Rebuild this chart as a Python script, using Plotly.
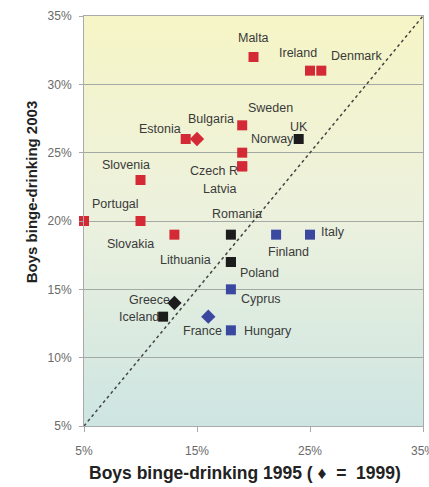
import base64
import plotly.graph_objs as go

# boys binge-drinking, % (1995 or 1999 on x, 2003 on y)
countries = ['Malta', 'Ireland', 'Denmark', 'Sweden', 'Estonia', 'Bulgaria', 'Norway',
             'Czech R', 'Latvia', 'Slovenia', 'Portugal', 'Slovakia', '',
             'UK', 'Romania', 'Lithuania', 'Poland', 'Greece', 'Iceland',
             'Cyprus', 'Finland', 'Italy', 'France', 'Hungary']
boys_early = [20, 25, 26, 19, 14, 15, 19, 19, 19, 10, 5, 13, 10,
              24, 18, 18, 18, 13, 12, 18, 22, 25, 16, 18]
boys_2003 = [32, 31, 31, 27, 26, 26, 25, 24, 24, 23, 20, 19, 20,
             26, 19, 17, 17, 14, 13, 15, 19, 19, 13, 12]
change = ['up'] * 13 + ['same'] * 6 + ['down'] * 5
year_1999 = ['Bulgaria', 'Greece', 'France']

x_ticks = [5, 15, 25, 35]
y_ticks = [5, 10, 15, 20, 25, 30, 35]

colors = {'up': '#d42a35', 'same': '#1c1c1c', 'down': '#3b48a0'}

# label offsets in pixels (dx, dy) from the marker
offsets = {'Malta': (0, 19), 'Ireland': (-12, 18), 'Denmark': (35, 15), 'Sweden': (28, 17),
           'Estonia': (-26, 10), 'Bulgaria': (14, 20), 'Norway': (30, 14), 'Czech R': (-28, -5),
           'Latvia': (-23, -23), 'Slovenia': (-15, 15), 'Portugal': (31, 17), 'Slovakia': (-44, -9),
           'UK': (0, 12), 'Romania': (6, 21), 'Lithuania': (-45, 2), 'Poland': (29, -11),
           'Greece': (-25, 3), 'Iceland': (-24, 0), 'Cyprus': (30, -10), 'Finland': (12, -17),
           'Italy': (23, 3), 'France': (-6, -14), 'Hungary': (37, -1)}

fig = go.Figure()

# diagonal (no change) line
fig.add_trace(go.Scatter(x=[5, 35], y=[5, 35], mode='lines',
                         line=dict(color='#444444', width=1.5, dash='3px,3px'),
                         hoverinfo='skip', showlegend=False))

for grp in ['up', 'same', 'down']:
    for sym in ['square', 'diamond']:
        idx = [i for i in range(len(countries)) if change[i] == grp
               and (countries[i] in year_1999) == (sym == 'diamond')]
        if not idx:
            continue
        fig.add_trace(go.Scatter(
            x=[boys_early[i] for i in idx], y=[boys_2003[i] for i in idx],
            mode='markers', text=[countries[i] for i in idx],
            marker=dict(symbol=sym, size=10 if sym == 'square' else 11,
                        color=colors[grp], line=dict(width=0)),
            cliponaxis=False, showlegend=False))

for i, name in enumerate(countries):
    if name not in offsets:
        continue
    dx, dy = offsets[name]
    fig.add_annotation(x=boys_early[i], y=boys_2003[i], text=name, showarrow=False,
                       xshift=dx, yshift=dy,
                       font=dict(family='Liberation Sans, Arial', size=12.5, color='#3a3a3a'))

# axis titles as annotations (placed like the original)
nb = '\u00a0'
fig.add_annotation(xref='paper', yref='paper', x=0.475, y=0, yshift=-47,
                   text=f'Boys binge-drinking 1995 ({nb}\u2666{nb}{nb}={nb}{nb}1999)',
                   showarrow=False, xanchor='center', yanchor='middle',
                   font=dict(family='Liberation Sans, Arial', size=17.5, color='#222222',
                             weight='bold'))
fig.add_annotation(xref='paper', yref='paper', x=0, xshift=-53, y=0.57,
                   text='Boys binge-drinking 2003', textangle=-90,
                   showarrow=False, xanchor='center', yanchor='middle',
                   font=dict(family='Liberation Sans, Arial', size=15, color='#222222',
                             weight='bold'))

svg = ("<svg xmlns='http://www.w3.org/2000/svg' width='10' height='10' preserveAspectRatio='none'>"
       "<defs><linearGradient id='g' x1='0' y1='0' x2='0' y2='1'>"
       "<stop offset='0' stop-color='#f6f5c6'/><stop offset='0.5' stop-color='#ecf1de'/>"
       "<stop offset='1' stop-color='#cde5e2'/></linearGradient></defs>"
       "<rect width='10' height='10' fill='url(#g)'/></svg>")
bg = 'data:image/svg+xml;base64,' + base64.b64encode(svg.encode()).decode()

fig.update_layout(
    width=429, height=487,
    margin=dict(l=84, r=6, t=16, b=61),
    paper_bgcolor='white', plot_bgcolor='rgba(0,0,0,0)',
    images=[dict(source=bg, xref='paper', yref='paper', x=0, y=1, sizex=1, sizey=1,
                 xanchor='left', yanchor='top', sizing='stretch', layer='below')],
    font=dict(family='Liberation Sans, Arial', color='#6a6a6a', size=12),
    xaxis=dict(range=[5, 35], tickvals=x_ticks, ticktext=[f'{v}%' for v in x_ticks],
               automargin=False, ticklabeloverflow='allow',
               showgrid=False, zeroline=False, showline=True, linecolor='#aaaaaa',
               mirror=True, ticks='outside', ticklen=5, tickcolor='#aaaaaa',
               ticklabelstandoff=9),
    yaxis=dict(range=[5, 35], tickvals=y_ticks, ticktext=[f'{v}%' for v in y_ticks],
               automargin=False,
               showgrid=True, gridcolor='#a3aaa3', gridwidth=1, zeroline=False,
               showline=True, linecolor='#aaaaaa', mirror=True,
               ticks='outside', ticklen=4, tickcolor='#aaaaaa', ticklabelstandoff=5),
)

fig.write_html('out.html', config={'displayModeBar': False},
               post_script="document.body.style.margin = '0';")
